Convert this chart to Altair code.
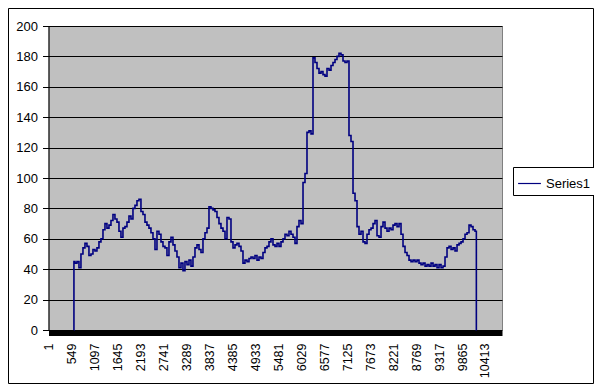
import altair as alt
import pandas as pd

values = [45, 44, 45, 41, 50, 54, 57, 55, 49, 50, 53, 52, 54, 58, 60, 66, 70, 67, 69, 72,
          76, 73, 71, 65, 61, 67, 68, 71, 75, 73, 80, 82, 85, 86, 78, 76, 71, 69, 67, 64,
          60, 53, 65, 63, 58, 55, 54, 49, 58, 61, 56, 52, 48, 41, 44, 39, 45, 43, 46, 42,
          48, 54, 56, 53, 51, 60, 64, 67, 81, 80, 79, 78, 74, 70, 67, 65, 60, 74, 73, 58,
          54, 56, 57, 55, 52, 44, 46, 45, 47, 48, 47, 49, 46, 48, 47, 51, 54, 55, 58, 60,
          56, 55, 57, 55, 58, 60, 63, 62, 65, 63, 61, 57, 68, 72, 70, 97, 103, 130, 131, 129,
          179, 176, 172, 169, 170, 168, 167, 172, 171, 174, 176, 178, 180, 182, 181, 177, 176, 177, 128, 124,
          90, 85, 68, 63, 65, 58, 57, 63, 66, 67, 70, 72, 62, 61, 68, 71, 67, 65, 67, 66,
          69, 70, 68, 70, 63, 55, 51, 49, 46, 45, 46, 45, 46, 44, 43, 44, 42, 43, 42, 44,
          42, 43, 41, 43, 41, 42, 48, 54, 55, 53, 54, 52, 56, 57, 58, 60, 63, 64, 69, 68,
          66, 65]
first_index = 598
step = 47.77
start_zero_index = 597
end_zero_index = 10215

x_ticks = [1, 549, 1097, 1645, 2193, 2741, 3289, 3837, 4385, 4933, 5481, 6029,
           6577, 7125, 7673, 8221, 8769, 9317, 9865, 10413]
y_ticks = [0, 20, 40, 60, 80, 100, 120, 140, 160, 180, 200]
series_name = "Series1"

xs = [start_zero_index] + [round(first_index + k * step) for k in range(len(values))] + [end_zero_index]
ys = [0] + values + [0]
df = pd.DataFrame({"idx": xs, "val": ys, "series": [series_name] * len(xs)})

FONT = "Liberation Sans"
W, H = 453.5, 304

line = alt.Chart(df).mark_line(strokeWidth=1.6, clip=False, interpolate="step").encode(
    x=alt.X("idx:Q", scale=alt.Scale(domain=[-10, 10820], nice=False, zero=False),
            axis=alt.Axis(values=x_ticks, format="d", labelAngle=270, grid=False, ticks=False, tickSize=0,
                          domainColor="black", domainWidth=5, offset=3, labelPadding=10,
                          labelFont=FONT, labelFontSize=12.5, labelColor="black", title=None,
                          labelOverlap=False, labelFlush=False)),
    y=alt.Y("val:Q", scale=alt.Scale(domain=[0, 200], nice=False),
            axis=alt.Axis(values=y_ticks, grid=True, gridColor="black", gridOpacity=1,
                          domainColor="black", tickColor="black", tickSize=6, labelPadding=5,
                          labelFont=FONT, labelFontSize=13, labelColor="black", title=None)),
    color=alt.Color("series:N", scale=alt.Scale(range=["#000080"]),
                    legend=alt.Legend(title=None, orient="none", legendX=464.5, legendY=141,
                                      strokeColor="black", padding=4, symbolType="stroke",
                                      symbolSize=520, symbolStrokeWidth=1.2,
                                      labelFont=FONT, labelFontSize=13, labelColor="black",
                                      labelOffset=4, fillColor="white")),
)

border = alt.Chart(pd.DataFrame({"a": [0]})).mark_rect(fill="transparent", stroke="black", strokeWidth=1).encode(
    x=alt.value(-40), x2=alt.value(545), y=alt.value(-17.5), y2=alt.value(357.5)
)

chart = alt.layer(border, line).properties(
    width=W, height=H,
    padding={"left": 40.5, "top": 18, "right": 92, "bottom": 54},
    autosize=alt.AutoSizeParams(type="none"),
).configure(background="white").configure_view(fill="#C0C0C0", stroke="#808080", strokeWidth=1)

chart.save("out.html", embed_options={"renderer": "svg", "actions": False})
